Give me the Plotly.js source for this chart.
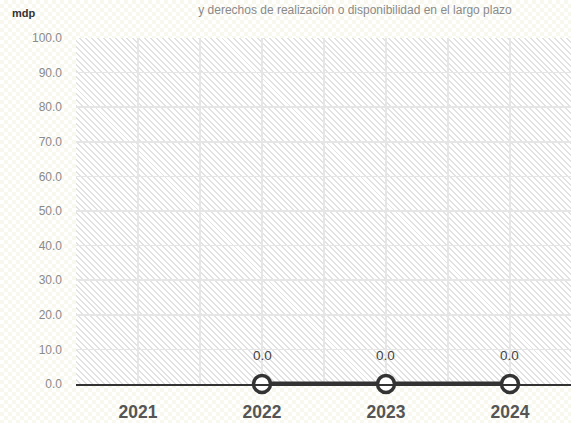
<!DOCTYPE html>
<html>
<head>
<meta charset="utf-8">
<script src="https://cdn.plot.ly/plotly-3.0.1.min.js"></script>
<style>
  html, body { margin:0; padding:0; }
  body {
    width:571px; height:423px; overflow:hidden;
    background-color:#ffffff;
    background-image:
      linear-gradient(45deg, #f8f8ef 25%, transparent 25%, transparent 75%, #f8f8ef 75%),
      linear-gradient(45deg, #f8f8ef 25%, transparent 25%, transparent 75%, #f8f8ef 75%);
    background-size:8px 8px;
    background-position:0 0, 4px 4px;
  }
  #wrap { position:relative; width:571px; height:423px; }
  #hatch {
    position:absolute; left:76px; top:38px; width:495px; height:346px;
    background:#ffffff;
    background-image: repeating-linear-gradient(45deg, #ffffff 0px, #ffffff 2.8px, #e2e2e2 2.8px, #e2e2e2 4.2px);
  }
  #chart { position:absolute; left:0; top:0; width:571px; height:423px; }
</style>
</head>
<body>
<div id="wrap">
  <div id="hatch"></div>
  <div id="chart"></div>
</div>
<script>
const years = [2021, 2022, 2023, 2024];
const yearLabels = ['2021', '2022', '2023', '2024'];
const values = [null, 0.0, 0.0, 0.0];
const valueLabels = ['', '0.0', '0.0', '0.0'];
const yTicks = [0, 10, 20, 30, 40, 50, 60, 70, 80, 90, 100];
const titleText = 'y derechos de realización o disponibilidad en el largo plazo';
const unitText = 'mdp';

const FONT = 'Liberation Sans, Arial, sans-serif';

const trace = {
  x: years,
  y: values,
  type: 'scatter',
  mode: 'lines+markers',
  connectgaps: false,
  line: { color: '#333333', width: 5 },
  marker: { size: 17, color: '#ffffff', line: { color: '#333333', width: 3.5 } },
  hoverinfo: 'skip',
  cliponaxis: false
};

const annotations = [];
years.forEach((yr, i) => {
  if (values[i] !== null) {
    annotations.push({
      x: yr, y: values[i], xref: 'x', yref: 'y',
      text: valueLabels[i], showarrow: false, yshift: 29,
      font: { family: FONT, size: 13.5, color: '#444444' }
    });
  }
});
annotations.push({
  xref: 'paper', yref: 'paper', x: (10 - 76) / 495, y: (384 - 13) / 346,
  xanchor: 'left', yanchor: 'middle', showarrow: false,
  text: '<b>' + unitText + '</b>',
  font: { family: FONT, size: 11, color: '#333333' }
});

const layout = {
  width: 571, height: 423,
  margin: { l: 76, r: 0, t: 38, b: 39, pad: 0 },
  paper_bgcolor: 'rgba(0,0,0,0)',
  plot_bgcolor: 'rgba(0,0,0,0)',
  showlegend: false,
  title: {
    text: titleText,
    xref: 'container', yref: 'container',
    x: 355 / 571, xanchor: 'center',
    y: 1 - 10 / 423, yanchor: 'middle',
    font: { family: FONT, size: 12, color: '#8a8a8a' }
  },
  xaxis: {
    type: 'linear',
    range: [2020.5, 2024.492],
    tickvals: years, ticktext: yearLabels,
    tickfont: { family: FONT, size: 17.5, color: '#555555', weight: 'bold' },
    ticks: '', ticklabelstandoff: 11,
    showgrid: true, gridcolor: '#e6e6e6', gridwidth: 1.5,
    minor: { dtick: 0.5, tick0: 2020.5, showgrid: true, gridcolor: '#e6e6e6', gridwidth: 1.5 },
    showline: true, linecolor: '#333333', linewidth: 2,
    zeroline: false, fixedrange: true
  },
  yaxis: {
    range: [0, 100],
    tickvals: yTicks,
    tickformat: '.1f',
    tickfont: { family: FONT, size: 12, color: '#8a8a8a' },
    ticks: '', ticklabelstandoff: 13,
    showgrid: true, gridcolor: '#e6e6e6', gridwidth: 1.5,
    zeroline: false, showline: false, fixedrange: true
  },
  annotations: annotations
};

Plotly.newPlot('chart', [trace], layout, { displayModeBar: false, staticPlot: true });
</script>
</body>
</html>
